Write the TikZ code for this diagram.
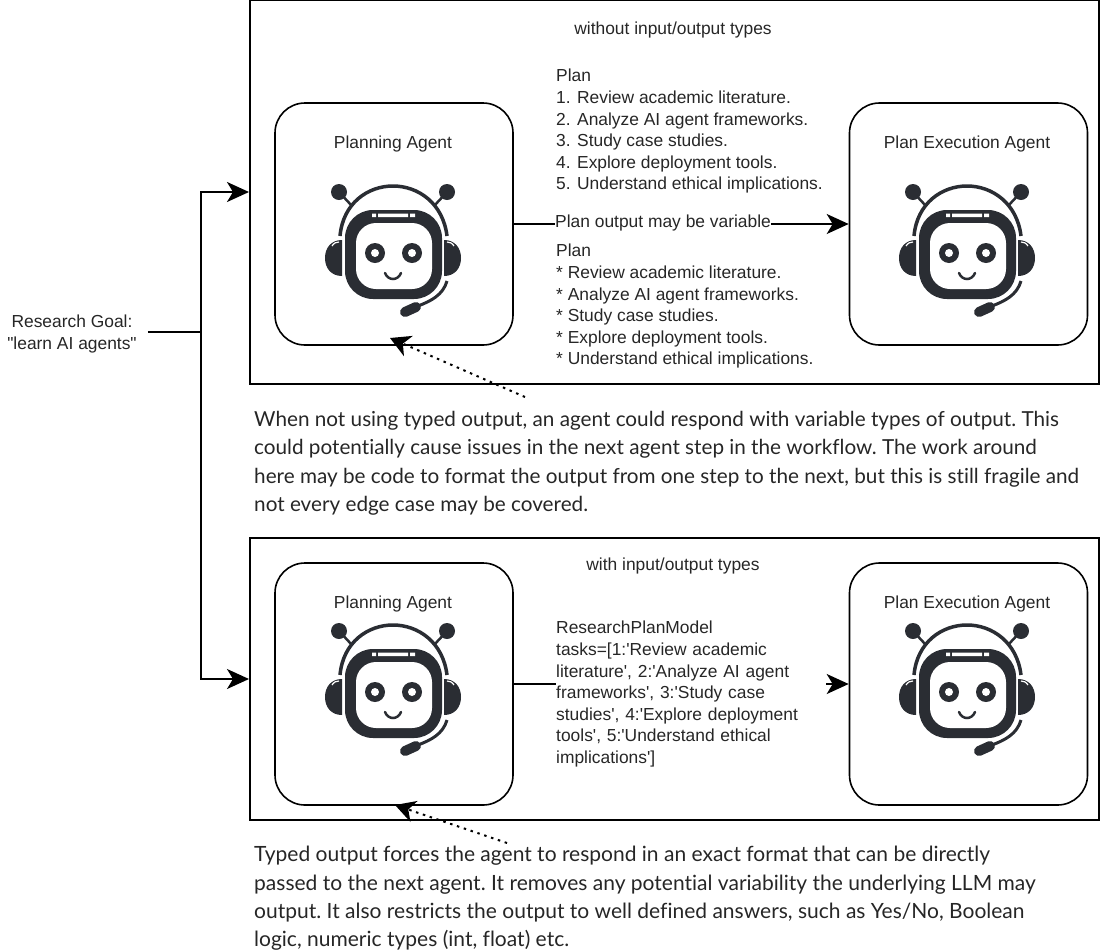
\documentclass[tikz,border=0pt]{standalone}
\usepackage{fontspec}
\newfontfamily\labelfont{Liberation Sans}
\newfontfamily\notefont[Ligatures=NoCommon]{Lato}
\usetikzlibrary{arrows.meta,positioning}
\definecolor{botdark}{HTML}{2A2D33}
\definecolor{inktext}{HTML}{262626}
\tikzset{
  frame/.style={draw,line width=2pt,minimum width=849pt,inner sep=0pt},
  agent/.style={draw,line width=1.6pt,rounded corners=30pt,minimum width=238pt,inner sep=0pt},
  lbl/.style={font=\labelfont\fontsize{17.4}{21.6}\selectfont,text=inktext,inner sep=0pt},
  note/.style={font=\notefont\fontsize{20.7}{28.4}\selectfont\frenchspacing,text=inktext,align=left,anchor=north west,inner sep=0pt},
  flow/.style={-{Stealth[length=22pt,width=20pt,inset=6pt]},line width=2pt},
  link/.style={line width=2pt},
  hint/.style={-{Stealth[length=20pt,width=22pt,inset=6pt]},line width=2pt,dash pattern=on 2.5pt off 4.7pt},
  robot/.pic={
    \fill[botdark] (-54,-61) circle (8);
    \fill[botdark] (54,-61) circle (8);
    \draw[botdark,line width=2.5pt] (-54,-61) -- (-41,-47) (54,-61) -- (41,-47);
    \draw[botdark,line width=3.5pt] (-53,-17) .. controls (-50,-50) and (-25,-67) .. (0,-67) .. controls (25,-67) and (50,-50) .. (54,-17);
    \fill[botdark] (-51,-13) .. controls (-62,-13) and (-68,-5) .. (-68,5) .. controls (-68,15) and (-62,23) .. (-51,23) -- cycle;
    \fill[botdark] (51,-13) .. controls (62,-13) and (68,-5) .. (68,5) .. controls (68,15) and (62,23) .. (51,23) -- cycle;
    \draw[white,line width=1.2pt] (-61,-7) .. controls (-59,-10) and (-57,-11) .. (-54,-11);
    \draw[white,line width=1.2pt] (61,-7) .. controls (59,-10) and (57,-11) .. (54,-11);
    \fill[botdark,rounded corners=28pt] (-48,-43) rectangle (49,46);
    \fill[white,rounded corners=20pt] (-37,-30) rectangle (39,36);
    \fill[white] (-15,-39.5) rectangle (15,-36) (-21,-39.5) rectangle (-17,-36) (17,-39.5) rectangle (22,-36);
    \fill[botdark] (-18,0) circle (10) (19,0) circle (10);
    \fill[white] (-18,0) circle (4) (19,0) circle (4);
    \draw[botdark,line width=2.5pt,line cap=round] (-8,20) .. controls (-5,28) and (5,28) .. (8,20);
    \draw[botdark,line width=3pt] (54,28) .. controls (50,42) and (38,48) .. (25,53);
    \draw[botdark,line width=10pt,line cap=round] (12,59) -- (23,54);
  }
}
\begin{document}
\begin{tikzpicture}[x=1pt,y=-1pt]
  \useasboundingbox (0,0) rectangle (1100,951);
  % upper panel
  \node[frame,minimum height=384pt] (frameA) at (674.5,192) {};
  \node[agent,minimum height=242pt] (planA) at (394,224) {};
  \node[agent,minimum height=242pt] (execA) at (968.5,224) {};
  \node[lbl] (titleA) at (673,30) {without input/output types};
  \node[lbl] (planlabelA) at (393,144) {Planning Agent};
  \node[lbl] (execlabelA) at (967,144) {Plan Execution Agent};
  \pic (botA) at (393,253) {robot};
  \pic (botB) at (967,253) {robot};
  \node[lbl,align=left,anchor=north west] (listA) at (556,69) {Plan\\1. Review academic literature.\\2. Analyze AI agent frameworks.\\3. Study case studies.\\4. Explore deployment tools.\\5. Understand ethical implications.};
  \node[lbl,anchor=west] (varlabel) at (555,223) {Plan output may be variable};
  \node[lbl,align=left,anchor=north west] (listB) at (556,244) {Plan\\* Review academic literature.\\* Analyze AI agent frameworks.\\* Study case studies.\\* Explore deployment tools.\\* Understand ethical implications.};
  \draw[link] (planA.east) -- (planA.east -| varlabel.west);
  \draw[flow] (execA.west -| varlabel.east) -- (execA.west);
  % lower panel
  \node[frame,minimum height=282pt] (frameB) at (674.5,679) {};
  \node[agent,minimum height=242pt] (planB) at (394,684) {};
  \node[agent,minimum height=242pt] (execB) at (968.5,684) {};
  \node[lbl] (titleB) at (673,566) {with input/output types};
  \node[lbl] (planlabelB) at (393,604) {Planning Agent};
  \node[lbl] (execlabelB) at (967,604) {Plan Execution Agent};
  \pic (botC) at (393,692) {robot};
  \pic (botD) at (967,692) {robot};
  \node[lbl,align=left,anchor=north west,text width=270pt] (tasks) at (556,621) {ResearchPlanModel\\tasks=[1:'Review academic\\literature', 2:'Analyze AI agent\\frameworks', 3:'Study case\\studies', 4:'Explore deployment\\tools', 5:'Understand ethical\\implications']};
  \draw[link] (planB.east) -- (planB.east -| tasks.west);
  \draw[flow] (execB.west -| tasks.east) -- (execB.west);
  % goal on the left
  \node[lbl,align=center,inner xsep=11pt] (goal) at (72,334) {Research Goal:\\"learn AI agents"};
  \coordinate (fork) at (201,332);
  \draw[link] (goal.east |- fork) -- (fork);
  \draw[flow] (fork) |- (frameA.west);
  \draw[flow] (fork) |- (frameB.west);
  % notes
  \node[note] (noteA) at (254,411) {When not using typed output, an agent could respond with variable types of output. This\\could potentially cause issues in the next agent step in the workflow. The work around\\here may be code to format the output from one step to the next, but this is still fragile and\\not every edge case may be covered.};
  \node[note,font=\notefont\fontsize{21}{28.4}\selectfont\frenchspacing] (noteB) at (254,846) {Typed output forces the agent to respond in an exact format that can be directly\\passed to the next agent. It removes any potential variability the underlying LLM may\\output. It also restricts the output to well defined answers, such as Yes/No, Boolean\\logic, numeric types (int, float) etc.};
  \coordinate (hintA) at (525,397);
  \coordinate (hintB) at (507,843);
  \draw[hint] (hintA) -- (390,338);
  \draw[hint] (hintB) -- (395,805);
\end{tikzpicture}
\end{document}
